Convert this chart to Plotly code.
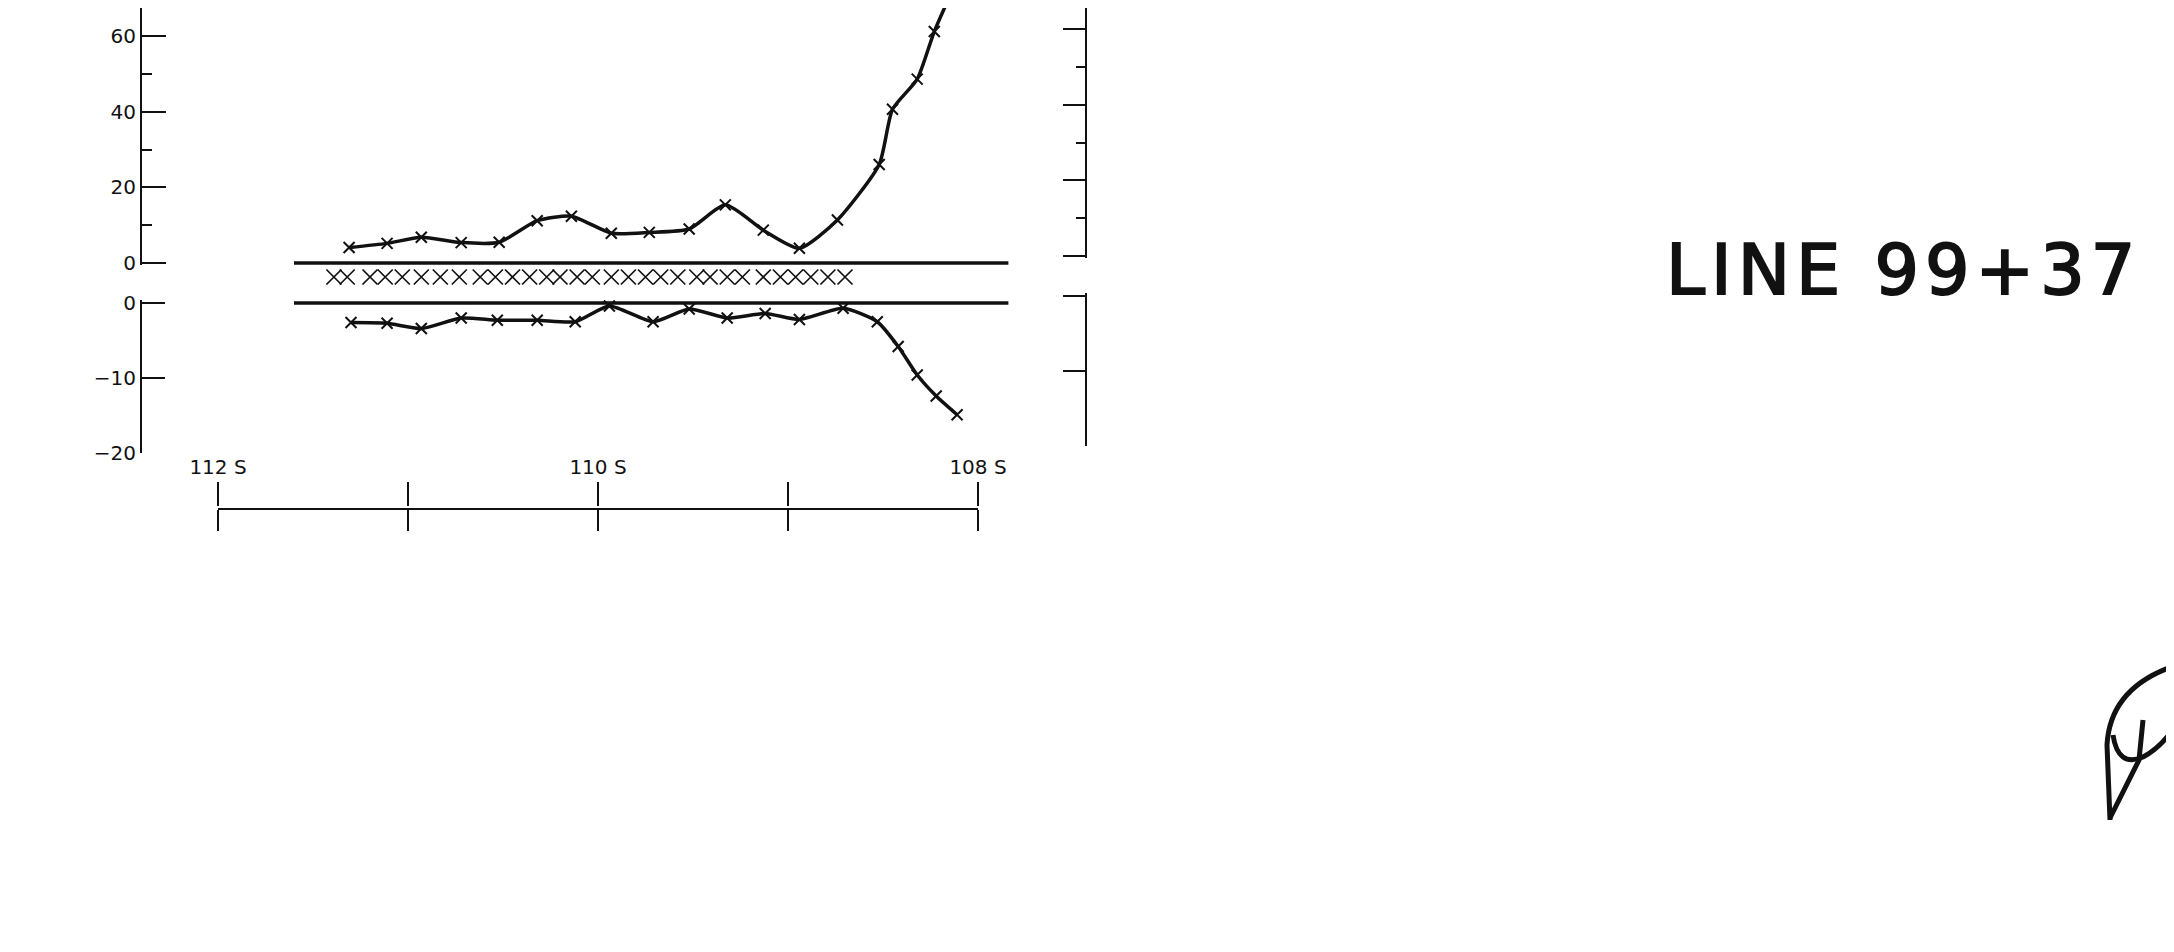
import plotly.graph_objects as go

# ---------------- data ----------------
up_station = [111.31, 111.11, 110.93, 110.72, 110.52, 110.32, 110.14, 109.93, 109.73, 109.52,
              109.33, 109.13, 108.94, 108.74, 108.52, 108.45, 108.32, 108.23, 108.11]
up_value = [4.1, 5.2, 6.8, 5.4, 5.5, 11.2, 12.4, 7.9, 8.1, 9.0,
            15.4, 8.7, 3.9, 11.4, 26.1, 40.7, 48.7, 61.3, 75.0]

low_station = [111.30, 111.11, 110.93, 110.72, 110.53, 110.32, 110.12, 109.94, 109.71, 109.52,
               109.32, 109.12, 108.94, 108.71, 108.53, 108.42, 108.32, 108.22, 108.11]
low_value = [-2.6, -2.7, -3.4, -2.0, -2.3, -2.3, -2.5, -0.4, -2.5, -0.8,
             -2.0, -1.4, -2.2, -0.7, -2.5, -5.8, -9.6, -12.4, -14.9]

row_station = [111.39, 111.32, 111.20, 111.12, 111.03, 110.93, 110.83, 110.73, 110.62, 110.54,
               110.45, 110.36, 110.27, 110.20, 110.11, 110.03, 109.93, 109.84, 109.75, 109.67,
               109.58, 109.48, 109.41, 109.32, 109.24, 109.13, 109.04, 108.96, 108.88, 108.79,
               108.70]

baseline_station = [111.60, 107.84]

upper_major = [0, 20, 40, 60]
upper_minor = [10, 30, 50]
lower_major = [0, -10, -20]

scale_ticks = [112, 111, 110, 109, 108]
scale_labels = ["112 S", "", "110 S", "", "108 S"]

title_text = "LINE 99+37"

# ---------------- layout helpers ----------------
PAGE_W, PAGE_H = 2174, 952
OFF = 8                          # default body margin of the html page
W, H = PAGE_W - 2 * OFF, PAGE_H - 2 * OFF - 6


def fx(p):
    return (p - OFF) / W


def fy(p):
    return 1 - (p - OFF) / H


STA_PX = 190.0      # pixels per station unit
X112 = 218.0        # pixel position of station 112
x_left, x_right = 142, 1085
x_range = [112 + (X112 - x_left) / STA_PX, 112 - (x_right - X112) / STA_PX]

K_UP = 3.776        # px per unit, upper panel
K_LOW = 7.5         # px per unit, lower panel

BLACK = "#111111"
tick_font = dict(family="DejaVu Sans", size=20, color=BLACK)

fig = go.Figure()

# upper profile
fig.add_trace(go.Scatter(
    x=up_station, y=up_value, xaxis="x", yaxis="y", mode="lines+markers",
    line=dict(color=BLACK, width=3.5, shape="spline", smoothing=0.6),
    marker=dict(symbol="x-thin", size=11, color=BLACK, line=dict(width=2, color=BLACK)),
    hoverinfo="skip", showlegend=False))
# upper baseline
fig.add_trace(go.Scatter(
    x=baseline_station, y=[0, 0], xaxis="x", yaxis="y", mode="lines",
    line=dict(color=BLACK, width=3.5), hoverinfo="skip", showlegend=False))

# lower profile
fig.add_trace(go.Scatter(
    x=low_station, y=low_value, xaxis="x", yaxis="y2", mode="lines+markers",
    line=dict(color=BLACK, width=3.5, shape="spline", smoothing=0.6),
    marker=dict(symbol="x-thin", size=11, color=BLACK, line=dict(width=2, color=BLACK)),
    hoverinfo="skip", showlegend=False))
fig.add_trace(go.Scatter(
    x=baseline_station, y=[0, 0], xaxis="x", yaxis="y2", mode="lines",
    line=dict(color=BLACK, width=3.5), hoverinfo="skip", showlegend=False))

# row of X between the two panels
fig.add_trace(go.Scatter(
    x=row_station, y=[0.5] * len(row_station), xaxis="x", yaxis="y5", mode="markers",
    marker=dict(symbol="x-thin", size=15, color=BLACK, line=dict(width=1.7, color=BLACK)),
    hoverinfo="skip", showlegend=False))

# invisible anchors for frame-only axes
for xa, ya, yv in [("x", "y3", 30), ("x", "y4", -10), ("x2", "y6", 0), ("x3", "y6", 0)]:
    fig.add_trace(go.Scatter(x=[110], y=[yv], xaxis=xa, yaxis=ya, mode="markers",
                             marker=dict(opacity=0), hoverinfo="skip", showlegend=False))

axis_common = dict(showgrid=False, zeroline=False, showline=True, linecolor=BLACK,
                   linewidth=2, ticks="inside", tickcolor=BLACK, tickwidth=2,
                   tickfont=tick_font, fixedrange=True, automargin=False)

up_pad = 0.6
low_pad = 0.4
top_px = OFF    # top edge of the drawing area on the page

fig.update_layout(
    template="none",
    width=W, height=H, margin=dict(l=0, r=0, t=0, b=0, pad=0), autosize=False,
    paper_bgcolor="white", plot_bgcolor="rgba(0,0,0,0)",
    xaxis=dict(domain=[fx(x_left), fx(x_right)], range=x_range, visible=False,
               fixedrange=True, automargin=False),
    # upper left axis
    yaxis=dict(domain=[fy(263 + up_pad * K_UP), 1], range=[-up_pad, (263 - top_px) / K_UP],
               anchor="x", side="left", tickvals=upper_major, ticklen=24,
               minor=dict(tickvals=upper_minor, ticklen=10, ticks="inside",
                          tickcolor=BLACK, tickwidth=2),
               **axis_common),
    # lower left axis
    yaxis2=dict(domain=[fy(453), fy(303 - low_pad * K_LOW)], range=[-20, low_pad],
                anchor="x", side="left", tickvals=lower_major, ticklen=23,
                **axis_common),
    # upper right axis (slightly shifted, as on the sheet)
    yaxis3=dict(domain=[fy(256 + up_pad * K_UP), 1], range=[-up_pad, (256 - top_px) / K_UP],
                anchor="x", side="right", tickvals=upper_major, ticklen=22,
                showticklabels=False,
                minor=dict(tickvals=upper_minor, ticklen=9, ticks="inside",
                           tickcolor=BLACK, tickwidth=2),
                **axis_common),
    # lower right axis
    yaxis4=dict(domain=[fy(446), fy(296 - low_pad * K_LOW)], range=[-20, low_pad],
                anchor="x", side="right", tickvals=lower_major, ticklen=22,
                showticklabels=False, **axis_common),
    # band for the row of X
    yaxis5=dict(domain=[fy(297), fy(257)], range=[0, 1], visible=False, anchor="x",
                fixedrange=True, automargin=False),
    # station scale bar
    yaxis6=dict(domain=[fy(508), fy(507)], range=[0, 1], visible=False, anchor="x2",
                fixedrange=True, automargin=False),
    xaxis2=dict(domain=[fx(X112), fx(X112 + 4 * STA_PX)], range=[112, 108], anchor="y6",
                side="bottom", showgrid=False, zeroline=False, showline=True,
                linecolor=BLACK, linewidth=1.5, ticks="outside", ticklen=21,
                tickwidth=1.5, tickcolor=BLACK, tickvals=scale_ticks,
                showticklabels=False, fixedrange=True, automargin=False),
    xaxis3=dict(overlaying="x2", range=[112, 108], anchor="y6", side="top",
                showgrid=False, zeroline=False, showline=False, ticks="outside",
                ticklen=24, tickwidth=1.5, tickcolor=BLACK, tickvals=scale_ticks,
                ticktext=scale_labels, tickfont=tick_font, fixedrange=True,
                automargin=False),
)

fig.add_annotation(
    xref="paper", yref="paper", x=fx(1664), y=fy(270), xanchor="left", yanchor="middle",
    text='<span style="letter-spacing:6px;stroke:#111111;stroke-width:2px">'
         + title_text + '</span>',
    showarrow=False, font=dict(family="DejaVu Sans", size=70, color=BLACK))

# hand-written initials at lower right
sig_paths = [
    "M {} {} L {} {} Q {} {} {} {}".format(fx(2110), fy(820), fx(2107), fy(745),
                                           fx(2110), fy(688), fx(2174), fy(666)),
    "M {} {} L {} {} L {} {}".format(fx(2110), fy(818), fx(2139), fy(760),
                                     fx(2143), fy(720)),
    "M {} {} Q {} {} {} {} Q {} {} {} {}".format(fx(2113), fy(735), fx(2118), fy(768),
                                                 fx(2143), fy(757), fx(2160), fy(748),
                                                 fx(2174), fy(728)),
]
for p in sig_paths:
    fig.add_shape(type="path", path=p, xref="paper", yref="paper",
                  line=dict(color=BLACK, width=5))

fig.write_html("out.html")
